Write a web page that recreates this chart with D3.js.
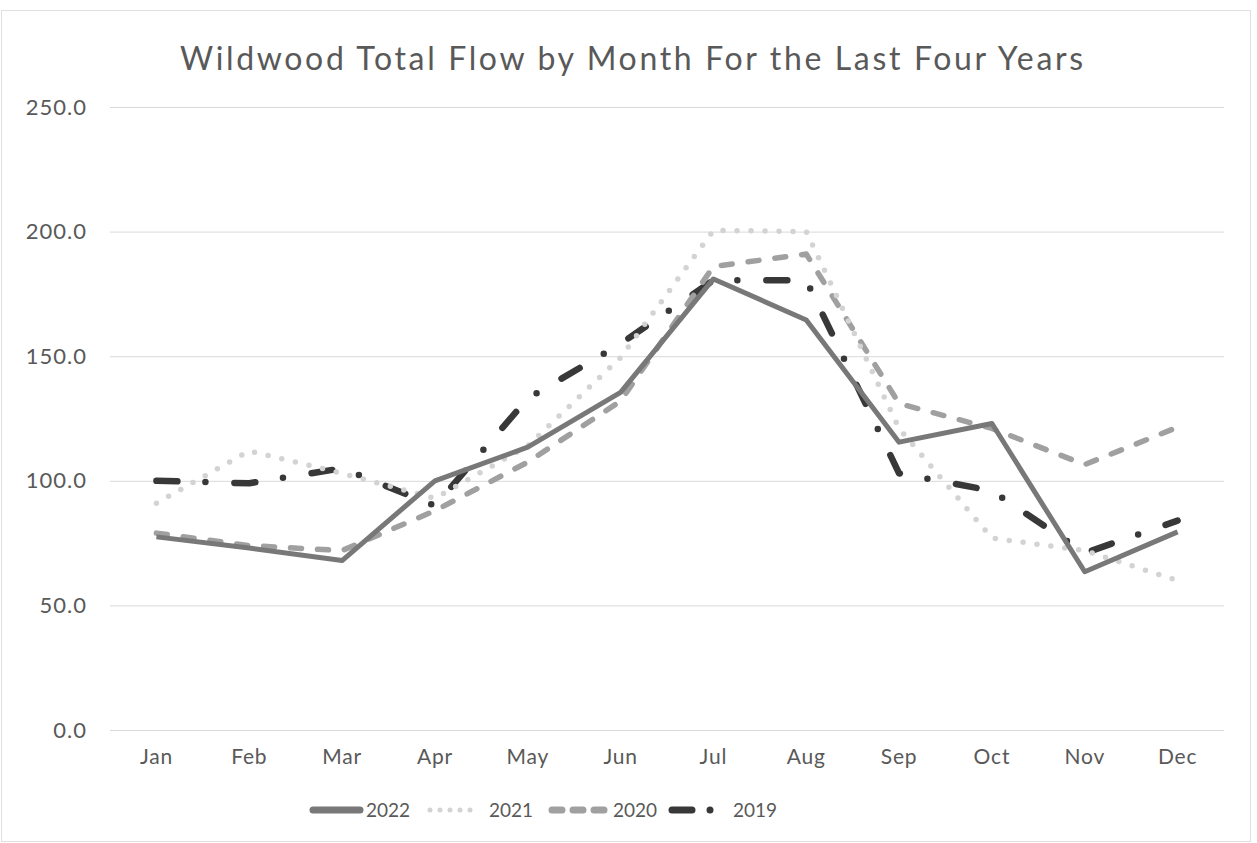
<html>
<head>
  <title>Wildwood Total Flow</title>
  <script src="https://d3js.org/d3.v7.min.js"></script>
  <style>
    body { margin: 0; background: #fff; }
    .tick text { font-family: Lato, 'Open Sans', sans-serif; fill: #595959; }
    .y-labels .tick text { font-size: 22px; letter-spacing: 1px; }
    .x-labels .tick text { font-size: 21px; letter-spacing: 0.8px; }
    .gridlines line { stroke: #d9d9d9; stroke-width: 1; }
    .gridlines .domain { stroke: none; }
  </style>
</head>
<body>
  <svg id="flowChart" width="1257" height="843"></svg>
  <script>
    const months = ["Jan","Feb","Mar","Apr","May","Jun","Jul","Aug","Sep","Oct","Nov","Dec"];
    const years = ["2022","2021","2020","2019"];
    const flow2022 = [77.5, 73, 68, 100, 113.5, 135.5, 181, 164.5, 115.5, 123, 63.5, 79.5];
    const flow2021 = [91, 112, 103, 93, 114, 149.5, 200.5, 200, 121, 77, 72, 60];
    const flow2020 = [79, 74, 72, 88, 107.5, 132, 186, 191, 131, 121, 106.5, 121.5];
    const flow2019 = [100, 99, 105, 90, 133, 155, 180.5, 180.5, 103, 96, 71, 84];
    const yTicks = [0, 50, 100, 150, 200, 250];

    const series = [
      { name: years[0], values: flow2022, color: "#787878", width: 5, dash: null, legendDash: null },
      { name: years[1], values: flow2021, color: "#d3d3d3", width: 5.5, dash: "0 14", legendDash: "0 10" },
      { name: years[2], values: flow2020, color: "#a0a0a0", width: 5.5, dash: "11 16", legendDash: "10 11" },
      { name: years[3], values: flow2019, color: "#383838", width: 6.5, dash: "21 28 0 29", legendDash: "20 18 0 100" }
    ];

    const svg = d3.select("svg#flowChart");
    const margin = { top: 107, left: 110, right: 33, bottom: 113 };
    const width = +svg.attr("width");
    const height = +svg.attr("height");
    const chartWidth = width - margin.left - margin.right;
    const chartHeight = height - margin.top - margin.bottom;

    // outer border
    svg.append("rect")
      .attr("x", 1.5).attr("y", 10.5)
      .attr("width", width - 8).attr("height", height - 12)
      .attr("fill", "none").attr("stroke", "#e0e0e0").attr("stroke-width", 1);

    const xScale = d3.scaleBand().domain(months).range([0, chartWidth]);
    const yScale = d3.scaleLinear().domain([0, 250]).range([chartHeight, 0]);

    const chartArea = svg.append("g")
      .attr("transform", "translate(" + margin.left + "," + margin.top + ")");

    // gridlines
    chartArea.append("g")
      .attr("class", "gridlines")
      .call(d3.axisLeft(yScale).tickValues(yTicks).tickSize(-chartWidth).tickFormat(""));

    // y labels
    const leftAxis = chartArea.append("g")
      .attr("class", "y-labels")
      .attr("transform", "translate(-20,0)")
      .call(d3.axisLeft(yScale).tickValues(yTicks).tickSize(0).tickFormat(d3.format(".1f")));
    leftAxis.select(".domain").remove();

    // x labels
    const bottomAxis = chartArea.append("g")
      .attr("class", "x-labels")
      .attr("transform", "translate(0," + chartHeight + ")")
      .call(d3.axisBottom(xScale).tickSize(0).tickPadding(19));
    bottomAxis.select(".domain").remove();

    // lines
    const line = d3.line()
      .x((d, i) => xScale(months[i]) + xScale.bandwidth() / 2)
      .y(d => yScale(d));

    series.slice().reverse().forEach(s => {
      chartArea.append("path")
        .datum(s.values)
        .attr("d", line)
        .attr("fill", "none")
        .attr("stroke", s.color)
        .attr("stroke-width", s.width)
        .attr("stroke-linecap", s.dash ? "round" : "butt")
        .attr("stroke-linejoin", "round")
        .attr("stroke-dasharray", s.dash);
    });

    // title
    svg.append("text")
      .attr("x", 180)
      .attr("y", 70)
      .attr("font-family", "Lato, 'Open Sans', sans-serif")
      .attr("font-size", "32px")
      .attr("fill", "#595959")
      .attr("textLength", 903)
      .attr("lengthAdjust", "spacing")
      .text("Wildwood Total Flow by Month For the Last Four Years");

    // legend
    const legendX = [313, 430, 552, 672];
    const legendLen = [47, 50, 55, 40];
    const legendTextX = [366, 489, 613, 733];
    const legend = svg.append("g").attr("transform", "translate(0,810)");
    series.forEach((s, i) => {
      legend.append("line")
        .attr("x1", legendX[i]).attr("x2", legendX[i] + legendLen[i])
        .attr("y1", 0).attr("y2", 0)
        .attr("stroke", s.color)
        .attr("stroke-width", i === 1 ? 5 : 7)
        .attr("stroke-linecap", "round")
        .attr("stroke-dasharray", s.legendDash);
      legend.append("text")
        .attr("x", legendTextX[i])
        .attr("y", 7)
        .attr("font-family", "Lato, 'Open Sans', sans-serif")
        .attr("font-size", "19px")
        .attr("fill", "#595959")
        .text(s.name);
    });
  </script>
</body>
</html>
